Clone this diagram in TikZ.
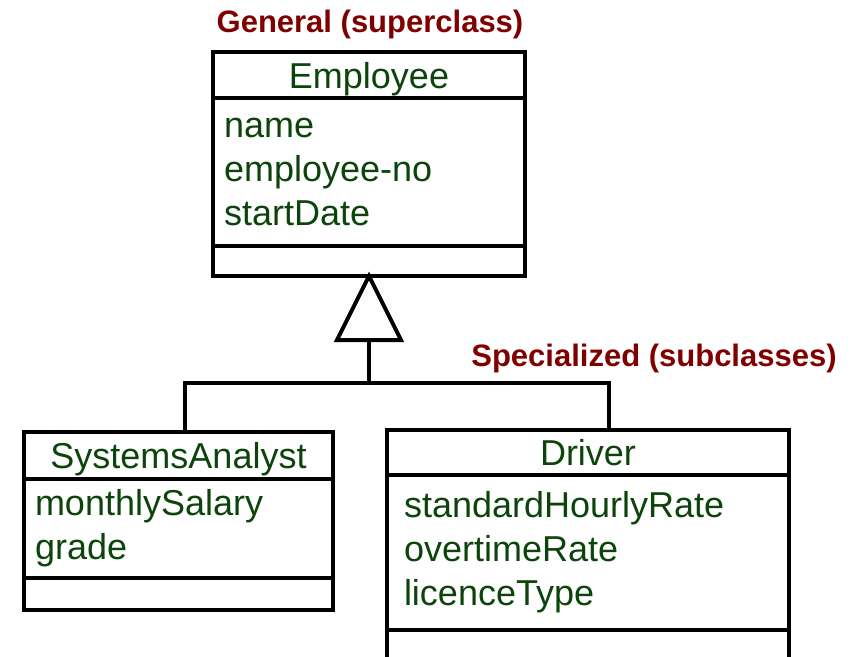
\documentclass[tikz,border=0pt]{standalone}
\usepackage{fontspec}
\setmainfont{Liberation Sans}
\usetikzlibrary{positioning}
\definecolor{classgreen}{RGB}{12,68,12}
\definecolor{notered}{RGB}{128,0,0}

\begin{document}
\begin{tikzpicture}[x=1pt, y=-1pt,
    box/.style={draw, line width=4pt, inner sep=0pt, outer sep=0pt, text=classgreen,
      font=\fontsize{36}{44}\selectfont},
    head/.style={box, align=center, text height=28pt, text depth=2pt},
    attrs/.style={box, align=left, inner xsep=11pt},
    ops/.style={box},
    gen/.style={line width=4pt},
    note/.style={text=notered, font=\bfseries\fontsize{31}{36}\selectfont}]
  \clip (0,0) rectangle (854,656);

  % superclass
  \node[note] (general) at (370,24) {General (superclass)};
  \node[head, minimum width=312pt, minimum height=46pt] (emp-head) at (369,75) {Employee};
  \node[attrs, text width=290pt, minimum height=148pt, below=0pt of emp-head] (emp-attr) {name\\employee-no\\startDate};
  \node[ops, minimum width=312pt, minimum height=30pt, below=0pt of emp-attr] (emp-ops) {};

  % subclasses
  \node[note] (special) at (654,358) {Specialized (subclasses)};
  \node[head, minimum width=309pt, minimum height=47pt] (sa-head) at (178.5,455.5) {SystemsAnalyst};
  \node[attrs, text width=287pt, minimum height=99pt, below=0pt of sa-head] (sa-attr) {monthlySalary\\grade};
  \node[ops, minimum width=309pt, minimum height=32pt, below=0pt of sa-attr] (sa-ops) {};

  \node[head, minimum width=402pt, minimum height=45pt] (drv-head) at (588,452.5) {Driver};
  \node[attrs, inner xsep=17pt, text width=368pt, minimum height=155pt, below=0pt of drv-head] (drv-attr) {standardHourlyRate\\overtimeRate\\licenceType};
  \node[ops, minimum width=402pt, minimum height=40pt, below=0pt of drv-attr] (drv-ops) {};

  % generalisation
  \coordinate (tri-base) at ([yshift=-64pt]emp-ops.south);
  \coordinate (bus) at ([yshift=-107pt]emp-ops.south);
  \draw[gen] (emp-ops.south) -- ([xshift=-32pt]tri-base) -- ([xshift=32pt]tri-base) -- cycle;
  \draw[gen] (tri-base) -- (bus);
  \draw[gen] ([xshift=6.5pt]sa-head.north) |- (bus) -| ([xshift=21pt]drv-head.north);
\end{tikzpicture}
\end{document}
